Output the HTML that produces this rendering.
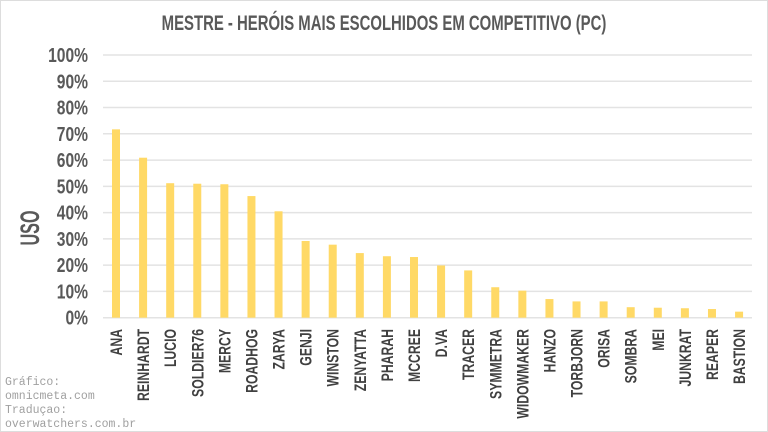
<!DOCTYPE html>
<html><head><meta charset="utf-8"><style>
html,body{margin:0;padding:0;background:#fff;}
svg{display:block;}
.cond{font-family:"Liberation Sans Narrow","Liberation Sans",sans-serif;font-weight:bold;}
</style></head><body>
<svg id="chart" width="768" height="432" xmlns="http://www.w3.org/2000/svg">
<rect x="0.5" y="0.5" width="767" height="431" fill="#fff" stroke="#ddd"/>
<text transform="translate(384,30) scale(0.71,1)" text-anchor="middle" class="cond" font-size="21" fill="#595959">MESTRE - HERÓIS MAIS ESCOLHIDOS EM COMPETITIVO (PC)</text>
<text transform="translate(39,228) rotate(-90) scale(0.6,1)" text-anchor="middle" class="cond" font-size="27" fill="#595959">USO</text>
<g id="grid"></g><g id="yticks"></g><g id="bars"></g><g id="xlabels"></g>
<g font-family="Liberation Mono, monospace" font-size="11.5" fill="#a0a0a0">
<text x="5" y="385">Gráfico:</text><text x="5" y="399">omnicmeta.com</text><text x="5" y="413">Traduçao:</text><text x="5" y="427">overwatchers.com.br</text>
</g>
</svg>
<script>
const categories=["ANA","REINHARDT","LUCIO","SOLDIER76","MERCY","ROADHOG","ZARYA","GENJI","WINSTON","ZENYATTA","PHARAH","MCCREE","D.VA","TRACER","SYMMETRA","WIDOWMAKER","HANZO","TORBJORN","ORISA","SOMBRA","MEI","JUNKRAT","REAPER","BASTION"];
const usage=[71.7,60.9,51.2,51.0,50.8,46.3,40.5,29.2,27.8,24.6,23.4,23.1,19.9,18.0,11.6,10.3,7.1,6.2,6.2,4.0,3.8,3.6,3.3,2.3];
const yTicks=[0,10,20,30,40,50,60,70,80,90,100];
const NS="http://www.w3.org/2000/svg";
const y0=317.7,y100=55,xL=103,xR=752,first=116,step=27.09,bw=8;
const yScale=v=>y0-(y0-y100)*v/100;
const xScale=i=>first+i*step;
function mk(t,a,p){const e=document.createElementNS(NS,t);for(const k in a)e.setAttribute(k,a[k]);p.appendChild(e);return e;}
const grid=document.getElementById('grid'),yt=document.getElementById('yticks'),bars=document.getElementById('bars'),xl=document.getElementById('xlabels');
yTicks.forEach(v=>{
 const l=mk('line',{x1:xL,x2:xR,y1:yScale(v),y2:yScale(v),stroke:'#e3e3e3','stroke-width':1.5},grid);
 
 
 const t=mk('text',{transform:`translate(88,${yScale(v)+7}) scale(0.78,1)`,'text-anchor':'end','font-size':20,fill:'#595959',class:'cond'},yt);
 t.textContent=v+'%';
 
 
});
categories.forEach((c,i)=>{
 const cx=xScale(i);
 const r=mk('rect',{x:cx-bw/2,y:yScale(usage[i]),width:bw,height:y0-yScale(usage[i]),fill:'#ffd966'},bars);
 
 
 const t=mk('text',{transform:`translate(${cx+6},329) rotate(-90) scale(0.72,1)`,'text-anchor':'end','font-size':17,fill:'#404040',class:'cond'},xl);
 t.textContent=c;
 
 
});
</script>
</body></html>
